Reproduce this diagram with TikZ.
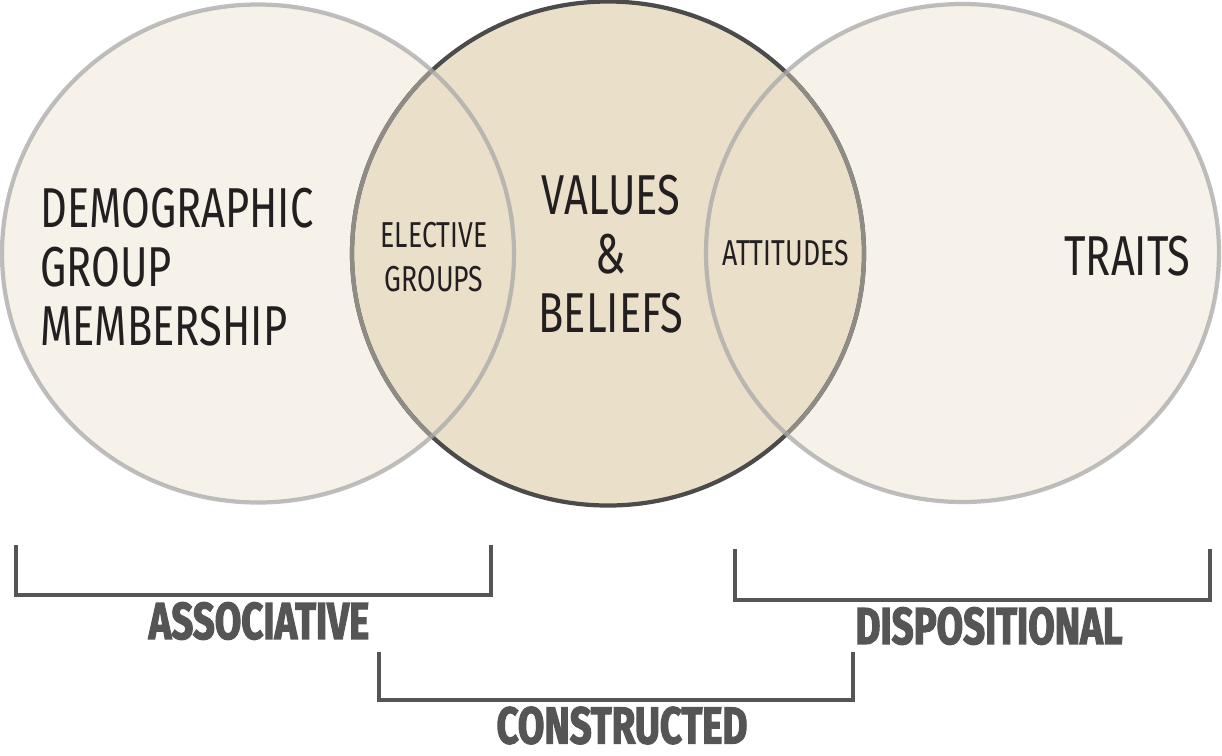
\documentclass[tikz,border=0pt]{standalone}
\usepackage{fontspec}
\newfontfamily\vennfont{Fira Sans}[FakeStretch=0.74]
\newfontfamily\kindfont{Fira Sans}[FakeStretch=0.74, BoldFeatures={FakeBold=2.2}]

\definecolor{creamfill}{HTML}{F6F2EA}
\definecolor{tanfill}{HTML}{EAE0CA}
\definecolor{rimdark}{HTML}{4B4B4B}
\definecolor{rimshade}{HTML}{8E8C85}
\definecolor{rimlight}{HTML}{A9A9A9}
\definecolor{inkdark}{HTML}{231F20}
\definecolor{bracketgray}{HTML}{555555}

\tikzset{
  outerrim/.style={draw=rimlight, draw opacity=0.75, line width=2.4pt},
  midrim/.style={line width=2.4pt},
  bigtext/.style={font=\vennfont\fontsize{32}{33.6}\selectfont, text=inkdark, inner sep=0pt},
  smalltext/.style={font=\vennfont\fontsize{20.5}{25}\selectfont, text=inkdark, inner sep=0pt, align=center},
  kindlabel/.style={font=\kindfont\bfseries\fontsize{29.5}{30}\selectfont, text=bracketgray, inner sep=0pt},
  bracket/.style={draw=bracketgray, line width=2.2pt, line join=miter}
}

\begin{document}
\begin{tikzpicture}[x=0.02cm, y=-0.02cm]
    % page and margins
    \fill[white] (0,0) rectangle (1222,755);
    \useasboundingbox (0,0) rectangle (1222,755);

    % circle centres
    \coordinate (demoC) at (258,253.5);
    \coordinate (valueC) at (608,253.5);
    \coordinate (traitC) at (962.5,253);

    % fills
    \fill[creamfill] (demoC) ellipse [x radius=256, y radius=249];
    \fill[creamfill] (traitC) ellipse [x radius=256.5, y radius=249];
    \filldraw[fill=tanfill, draw=rimdark, midrim] (valueC) ellipse [x radius=256, y radius=252];

    % middle rim where the outer circles cover it
    \begin{scope}
      \clip (demoC) ellipse [x radius=256, y radius=249];
      \draw[draw=rimshade, midrim] (valueC) ellipse [x radius=256, y radius=252];
    \end{scope}
    \begin{scope}
      \clip (traitC) ellipse [x radius=256.5, y radius=249];
      \draw[draw=rimshade, midrim] (valueC) ellipse [x radius=256, y radius=252];
    \end{scope}

    % outer rims
    \draw[outerrim] (demoC) ellipse [x radius=256, y radius=249];
    \draw[outerrim] (traitC) ellipse [x radius=256.5, y radius=249];

    % texts in the circles
    \node[bigtext, align=left, anchor=west] (demo) at (40,267) {DEMOGRAPHIC\\GROUP\\MEMBERSHIP};
    \node[bigtext, align=center] (values) at (611,254.5) {VALUES\\\&\\BELIEFS};
    \node[bigtext] (traits) at (1127.5,256) {TRAITS};
    \node[smalltext] (elective) at (434,257.5) {ELECTIVE\\GROUPS};
    \node[smalltext] (attitudes) at (785.5,253) {ATTITUDES};

    % brackets
    \draw[bracket] (16,545) -- (16,595) -- (491,595) -- (491,545);
    \draw[bracket] (379,652) -- (379,700) -- (853,700) -- (853,652);
    \draw[bracket] (735,549) -- (735,600) -- (1210,600) -- (1210,549);

    % bracket labels
    \node[kindlabel] (associative) at (259,621) {ASSOCIATIVE};
    \node[kindlabel] (constructed) at (622,725.5) {CONSTRUCTED};
    \node[kindlabel] (dispositional) at (989,626) {DISPOSITIONAL};
\end{tikzpicture}
\end{document}
